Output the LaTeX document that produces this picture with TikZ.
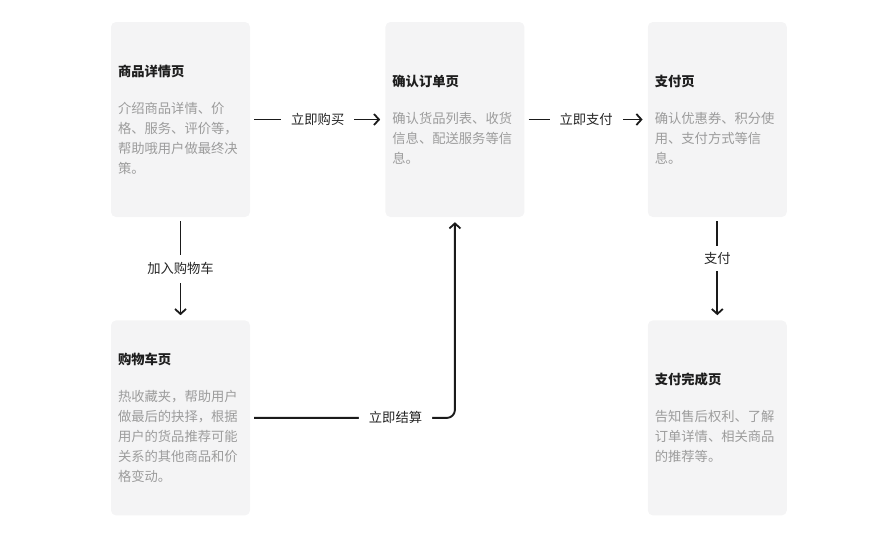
\documentclass[tikz,border=0pt]{standalone}
\usepackage{fontspec}
\setmainfont{Noto Sans CJK SC}
\usetikzlibrary{positioning,arrows.meta}
\definecolor{pgcard}{HTML}{F4F4F5}
\definecolor{pgbody}{HTML}{9C9C9C}
\definecolor{pgtitle}{HTML}{1E1E1E}
\definecolor{pgline}{HTML}{1A1A1A}
\definecolor{pglabel}{HTML}{262626}

\begin{document}
\begin{tikzpicture}[
  x=1pt, y=-1pt,
  font=\fontsize{13.3}{20}\selectfont,
  node distance=103pt and 135pt,
  card/.style={rectangle, rounded corners=5pt, fill=pgcard, align=left,
    text width=125pt, inner xsep=7pt, inner ysep=0pt,
    minimum height=195pt, text=pgtitle},
  arr/.style={-{Straight Barb[length=5pt, width=11pt, line width=1.8pt]},
    line width=1.9pt, draw=pgline, shorten <=4pt, shorten >=5pt},
  lbl/.style={fill=white, text=pglabel, inner xsep=10pt, inner ysep=8pt}
]
\useasboundingbox (0,0) rectangle (895,541);

\node[card] (detail) at (180.5,119.5)
  {{\bfseries 商品详情页}\\[17pt]
   \color{pgbody}介绍商品详情、价\\格、服务、评价等，\\帮助哦用户做最终决\\策。};
\node[card, right=of detail] (confirm)
  {{\bfseries 确认订单页}\\[17pt]
   \color{pgbody}确认货品列表、收货\\信息、配送服务等信\\息。};
\node[card, right=123pt of confirm] (pay)
  {{\bfseries 支付页}\\[17pt]
   \color{pgbody}确认优惠券、积分使\\用、支付方式等信\\息。};
\node[card, below=of detail] (cart)
  {{\bfseries 购物车页}\\[17pt]
   \color{pgbody}热收藏夹，帮助用户\\做最后的抉择，根据\\用户的货品推荐可能\\关系的其他商品和价\\格变动。};
\node[card, below=of pay] (done)
  {{\bfseries 支付完成页}\\[17pt]
   \color{pgbody}告知售后权利、了解\\订单详情、相关商品\\的推荐等。};

\draw[arr] (detail) -- node[lbl] {立即购买} (confirm);
\draw[arr] (confirm) -- node[lbl] {立即支付} (pay);
\draw[arr] (detail) -- node[lbl] {加入购物车} (cart);
\draw[arr] (pay) -- node[lbl, pos=0.4, inner ysep=6pt] {支付} (done);

% checkout from the cart goes back up to the order page
\draw[arr, rounded corners=8pt] (cart.east)
  -- node[lbl, pos=0.71] {立即结算} (confirm.south |- cart.east)
  -- (confirm.south);
\end{tikzpicture}
\end{document}
